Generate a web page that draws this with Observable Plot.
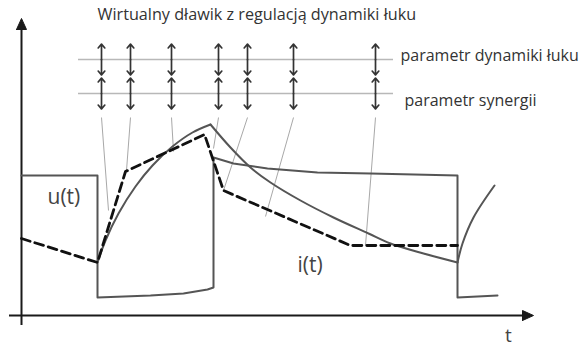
<!DOCTYPE html>
<html>
<head>
<meta charset="utf-8">
<script src="https://cdn.jsdelivr.net/npm/d3@7"></script>
<script src="https://cdn.jsdelivr.net/npm/@observablehq/plot@0.6"></script>
<style>
  html, body { margin: 0; padding: 0; background: #fff; }
  #chart svg { display: block; }
</style>
</head>
<body>
<div id="chart"></div>
<script>
// ---- data (t: time units, v: amplitude units) ----
// u(t): welding voltage (solid)
const uTime  = [0, 76, 76, 129, 162, 186, 192, 192, 212, 246, 296, 349, 436, 436, 476];
const uValue = [140, 140, 18, 20, 22, 26, 28, 158, 152, 147, 143, 142, 140, 18, 20];

// i(t): welding current (solid), three smooth branches
const iRiseTime   = [76, 84, 97, 114, 131, 151, 171, 189];
const iRiseValue  = [53, 75, 102, 129, 150, 169, 183, 191];
const iDecayTime  = [189, 209, 229, 249, 279, 312, 347, 369, 402, 436];
const iDecayValue = [191, 168, 148, 133, 115, 98, 82, 72, 62, 53];
const iRise2Time  = [436, 441, 452, 473];
const iRise2Value = [53, 72, 98, 130];

// reference current (dashed), piecewise linear
const refTime  = [0, 76, 104, 183, 202, 329, 436];
const refValue = [77, 53, 144, 181, 125, 70, 70];

// parameter knobs (double arrows) and leader lines to the curve
const knobTime     = [80, 109, 150, 197, 226, 272, 354];
const knobLevels   = [256, 222];           // "parametr dynamiki łuku", "parametr synergii"
const leaderTop    = 198;
const leaderEndT   = [87, 105, 152, 192, 202, 244, 344];
const leaderEndV   = [105, 145, 164, 167, 125, 99, 70];
const guideStart = 57, guideEnd = 372;

// axes extent
const axisTEnd = 512, axisVEnd = 297;

// texts
const titleText  = "Wirtualny dławik z regulacją dynamiki łuku";
const levelNames = ["parametr dynamiki łuku", "parametr synergii"];
const levelNameT = [379, 383];
const levelNameV = [260, 215];
const curveNames = ["u(t)", "i(t)"];
const curveNameT = [26, 276];
const curveNameV = [118, 50];
const timeName = "t";
const timeNameT = 487, timeNameV = -20;

// ---- build tables ----
const zip = (ts, vs, extra = {}) => ts.map((t, k) => ({t, v: vs[k], ...extra}));
const uData = zip(uTime, uValue);
const iData = [
  ...zip(iRiseTime, iRiseValue, {seg: "a"}),
  ...zip(iDecayTime, iDecayValue, {seg: "b"}),
  ...zip(iRise2Time, iRise2Value, {seg: "c"})
];
const refData = zip(refTime, refValue);
const halfArrow = 15.5;
const arrowData = [];
for (const t of knobTime) for (const lv of knobLevels) {
  arrowData.push({t, v1: lv, v2: lv + halfArrow});
  arrowData.push({t, v1: lv, v2: lv - halfArrow});
}
const leaderData = knobTime.map((t, k) => ({t1: t, v1: leaderTop, t2: leaderEndT[k], v2: leaderEndV[k]}));
const levelLabelData = levelNames.map((s, k) => ({s, t: levelNameT[k], v: levelNameV[k]}));
const curveLabelData = curveNames.map((s, k) => ({s, t: curveNameT[k], v: curveNameV[k]}));

// arrow heads of the axes (filled triangles)
const headLen = 11, headHalf = 5;
const xHead = [
  {t: axisTEnd - headLen, v: -headHalf}, {t: axisTEnd, v: 0},
  {t: axisTEnd - headLen, v: headHalf}, {t: axisTEnd - headLen, v: -headHalf}
];
const yHead = [
  {t: -headHalf, v: axisVEnd - headLen}, {t: 0, v: axisVEnd},
  {t: headHalf, v: axisVEnd - headLen}, {t: -headHalf, v: axisVEnd - headLen}
];

const FONT = "Open Sans, Lato, sans-serif";

const chart = Plot.plot({
  width: 581,
  height: 347,
  margin: 0,
  x: {domain: [-21, 560], axis: null},
  y: {domain: [-32, 315], axis: null},
  style: {background: "#fff"},
  marks: [
    // guide lines for parameters
    Plot.ruleY(knobLevels, {x1: guideStart, x2: guideEnd, stroke: "#b8b8b8", strokeWidth: 1.5}),
    // leader lines
    Plot.link(leaderData, {x1: "t1", y1: "v1", x2: "t2", y2: "v2", stroke: "#a8a8a8", strokeWidth: 1}),
    // double arrows
    Plot.arrow(arrowData, {x1: "t", y1: "v1", x2: "t", y2: "v2", stroke: "#333", strokeWidth: 1.7, headLength: 6, headAngle: 80, insetEnd: 0, insetStart: 0}),
    // axes
    Plot.ruleX([0], {y1: -10, y2: axisVEnd - headLen + 1, stroke: "#1a1a1a", strokeWidth: 2}),
    Plot.ruleY([0], {x1: -12, x2: axisTEnd - headLen + 1, stroke: "#1a1a1a", strokeWidth: 2}),
    Plot.line(xHead, {x: "t", y: "v", fill: "#1a1a1a", stroke: "#1a1a1a", strokeWidth: 1, strokeLinejoin: "miter"}),
    Plot.line(yHead, {x: "t", y: "v", fill: "#1a1a1a", stroke: "#1a1a1a", strokeWidth: 1, strokeLinejoin: "miter"}),
    // voltage
    Plot.line(uData, {x: "t", y: "v", stroke: "#555", strokeWidth: 2}),
    // current
    Plot.line(iData, {x: "t", y: "v", z: "seg", stroke: "#555", strokeWidth: 2, curve: "catmull-rom"}),
    // reference (dashed)
    Plot.line(refData, {x: "t", y: "v", stroke: "#111", strokeWidth: 2.8, strokeDasharray: "9,5"}),
    // texts
    Plot.text([titleText], {x: 76, y: 301, text: d => d, textAnchor: "start", fontSize: 16.2, fill: "#333", fontFamily: FONT}),
    Plot.text(levelLabelData, {x: "t", y: "v", text: "s", textAnchor: "start", fontSize: 16, fill: "#333", fontFamily: FONT}),
    Plot.text(curveLabelData, {x: "t", y: "v", text: "s", textAnchor: "start", fontSize: 21, fill: "#444", fontFamily: FONT}),
    Plot.text([timeName], {x: timeNameT, y: timeNameV, text: d => d, textAnchor: "middle", fontSize: 19, fill: "#444", fontFamily: FONT})
  ]
});
document.getElementById("chart").appendChild(chart);
</script>
</body>
</html>
